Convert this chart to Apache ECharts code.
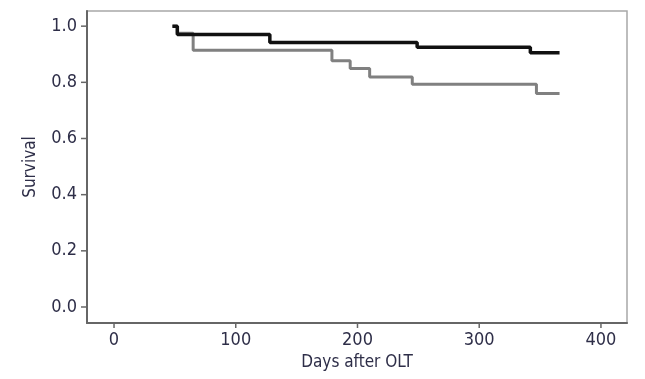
<!DOCTYPE html>
<html>
<head>
<meta charset="utf-8">
<script src="https://cdn.jsdelivr.net/npm/echarts@6/dist/echarts.min.js"></script>
<style>html,body{margin:0;padding:0;background:#fff}#c{width:645px;height:379px}</style>
</head>
<body>
<div id="c"></div>
<script>
var blackTimes    = [48, 52, 128, 249, 342, 366];
var blackSurvival = [1.0, 0.97, 0.942, 0.925, 0.905, 0.905];
var grayTimes     = [48, 52, 65, 179, 194, 210, 245, 347, 366];
var graySurvival  = [1.0, 0.975, 0.914, 0.877, 0.849, 0.819, 0.793, 0.76, 0.76];
var xTicks = [0, 100, 200, 300, 400];
var yTicks = [0.0, 0.2, 0.4, 0.6, 0.8, 1.0];
var xRange = [-22.2, 421.4];
var yRange = [-0.057, 1.054];

function pairs(t, s) { return t.map(function (v, i) { return [v, s[i]]; }); }

var font = "'Liberation Sans Narrow', 'DejaVu Sans Condensed', sans-serif";
var labelColor = '#2e2e48';

var chart = echarts.init(document.getElementById('c'), null, {renderer: 'canvas'});
chart.setOption({
  animation: false,
  grid: {left: 87, right: 18, top: 11, bottom: 56, show: true, borderColor: '#a8a8a8', borderWidth: 1.5, containLabel: false},
  xAxis: {
    type: 'value', min: xRange[0], max: xRange[1],
    name: 'Days after OLT', nameLocation: 'middle', nameGap: 30,
    nameTextStyle: {fontFamily: font, fontSize: 17, color: labelColor},
    axisLine: {show: true, onZero: false, lineStyle: {color: '#666', width: 2}},
    axisTick: {show: false},
    axisLabel: {fontFamily: font, fontSize: 18, color: labelColor, margin: 8, customValues: xTicks},
    splitLine: {show: false}
  },
  yAxis: {
    type: 'value', min: yRange[0], max: yRange[1],
    name: 'Survival', nameLocation: 'middle', nameGap: 48,
    nameTextStyle: {fontFamily: font, fontSize: 17, color: labelColor},
    axisLine: {show: true, onZero: false, lineStyle: {color: '#666', width: 2}},
    axisTick: {show: false},
    axisLabel: {fontFamily: font, fontSize: 18, color: labelColor, margin: 10, customValues: yTicks,
      formatter: function (v) { return v.toFixed(1); }},
    splitLine: {show: false}
  },
  series: [
    {type: 'line', step: 'end', data: pairs(grayTimes, graySurvival), showSymbol: false,
     lineStyle: {color: '#808080', width: 3}, z: 2},
    {type: 'line', step: 'end', data: pairs(blackTimes, blackSurvival), showSymbol: false,
     lineStyle: {color: '#111', width: 3.5}, z: 3}
  ]
});

// Outward axis ticks, placed through the axes' own scales
var leftPx = chart.convertToPixel({xAxisIndex: 0}, xRange[0]);
var bottomPx = chart.convertToPixel({yAxisIndex: 0}, yRange[0]);
var tickStyle = {stroke: '#666', lineWidth: 1.5};
var ticks = [];
yTicks.forEach(function (v) {
  var py = chart.convertToPixel({yAxisIndex: 0}, v);
  ticks.push({type: 'line', silent: true, z: 10,
    shape: {x1: leftPx - 6, y1: py, x2: leftPx, y2: py}, style: tickStyle});
});
xTicks.forEach(function (v) {
  var px = chart.convertToPixel({xAxisIndex: 0}, v);
  ticks.push({type: 'line', silent: true, z: 10,
    shape: {x1: px, y1: bottomPx, x2: px, y2: bottomPx + 5}, style: tickStyle});
});
chart.setOption({graphic: ticks});
</script>
</body>
</html>
